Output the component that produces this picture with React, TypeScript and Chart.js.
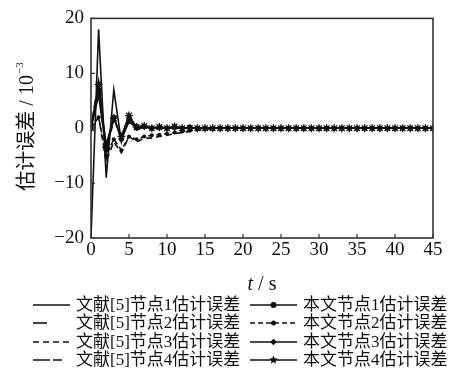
import React, { useEffect, useRef } from "react";
import { Chart, registerables } from "chart.js";

Chart.register(...registerables);

const timeSteps: number[] = Array.from({ length: 46 }, (_, i) => i);
const xTicks: number[] = [0, 5, 10, 15, 20, 25, 30, 35, 40, 45];
const yTicks: number[] = [-20, -10, 0, 10, 20];

const tail = (n: number): number[] => new Array(n).fill(0);

const lit1: number[] = [-20, 18, -9, 7, -2.5, 2.5, -0.3, 0.4, 0, 0.2, 0, 0.1, ...tail(34)];
const lit2: number[] = [0, 8.5, -5.5, 2, -2, 2, -0.3, 0.3, 0, 0.1, ...tail(36)];
const lit3: number[] = [0, 2, -6, -2.5, -4.5, -1.5, -2.5, -1.8, -1.8, -1.5, -1.3, -1.0, -0.8, -0.6, -0.4, -0.2, -0.1, ...tail(29)];
const lit4: number[] = [0, 9, -4, 2, -1.5, 2.2, 0, 0.3, 0, 0.1, ...tail(36)];
const our1: number[] = [0, 7, -3, 2, -2, 1.6, 0.3, 0.3, 0, 0.2, 0, 0.3, 0, 0.2, ...tail(32)];
const our2: number[] = [0, 2, -5, -2, -4, -1.5, -2, -1.5, -1.3, -1.2, -1, -0.8, -0.6, -0.4, -0.2, ...tail(31)];
const our3: number[] = [0, 6, -4, 2, -2, 1.2, 0, 0.3, 0, 0.1, ...tail(36)];
const our4: number[] = [0, 8, -3.5, 1.8, -1.5, 2.3, 0.2, 0.4, 0, 0.2, 0, 0.3, ...tail(34)];

const labelsLit: string[] = ["文献[5]节点1估计误差", "文献[5]节点2估计误差", "文献[5]节点3估计误差", "文献[5]节点4估计误差"];
const labelsOur: string[] = ["本文节点1估计误差", "本文节点2估计误差", "本文节点3估计误差", "本文节点4估计误差"];

const INK = "#111";
const SERIF = "'Liberation Serif', 'Noto Sans CJK SC', serif";

type Spec = { data: number[]; label: string; dash: number[]; marker: string | null; radius: number };

const specs: Spec[] = [
  { data: lit1, label: labelsLit[0], dash: [], marker: null, radius: 0 },
  { data: lit2, label: labelsLit[1], dash: [14, 24], marker: null, radius: 0 },
  { data: lit3, label: labelsLit[2], dash: [6, 4], marker: null, radius: 0 },
  { data: lit4, label: labelsLit[3], dash: [17, 3, 9, 30], marker: null, radius: 0 },
  { data: our1, label: labelsOur[0], dash: [], marker: "circle", radius: 2.5 },
  { data: our2, label: labelsOur[1], dash: [5, 3], marker: "circle", radius: 2 },
  { data: our3, label: labelsOur[2], dash: [], marker: "rectRot", radius: 2.8 },
  { data: our4, label: labelsOur[3], dash: [], marker: "star", radius: 4 },
];

function drawMarker(ctx: CanvasRenderingContext2D, kind: string, x: number, y: number, r: number) {
  ctx.save();
  ctx.setLineDash([]);
  ctx.fillStyle = INK;
  ctx.strokeStyle = INK;
  ctx.lineWidth = 1.3;
  ctx.beginPath();
  if (kind === "circle") {
    ctx.arc(x, y, r, 0, Math.PI * 2);
    ctx.fill();
  } else if (kind === "rectRot") {
    ctx.moveTo(x, y - r);
    ctx.lineTo(x + r, y);
    ctx.lineTo(x, y + r);
    ctx.lineTo(x - r, y);
    ctx.closePath();
    ctx.fill();
  } else if (kind === "star") {
    for (let i = 0; i < 10; i++) {
      const a = -Math.PI / 2 + (i * Math.PI) / 5;
      const rr = i % 2 === 0 ? r : r * 0.45;
      const px = x + rr * Math.cos(a);
      const py = y + rr * Math.sin(a);
      if (i === 0) ctx.moveTo(px, py);
      else ctx.lineTo(px, py);
    }
    ctx.closePath();
    ctx.fill();
  }
  ctx.restore();
}

const decorPlugin = {
  id: "decor",
  afterDatasetsDraw(chart: any) {
    const { ctx, chartArea } = chart;
    const xs = chart.scales.x;
    const ys = chart.scales.y;
    ctx.save();
    ctx.strokeStyle = "#333";
    ctx.lineWidth = 1.2;
    ctx.beginPath();
    xTicks.forEach((v) => {
      const px = xs.getPixelForValue(v);
      ctx.moveTo(px, chartArea.bottom);
      ctx.lineTo(px, chartArea.bottom - 4);
    });
    yTicks.forEach((v) => {
      const py = ys.getPixelForValue(v);
      ctx.moveTo(chartArea.left, py);
      ctx.lineTo(chartArea.left + 4, py);
    });
    ctx.stroke();
    ctx.lineWidth = 1.6;
    ctx.strokeRect(chartArea.left, chartArea.top, chartArea.right - chartArea.left, chartArea.bottom - chartArea.top);
    ctx.restore();
  },
  afterDraw(chart: any) {
    const { ctx, chartArea } = chart;
    ctx.save();
    ctx.fillStyle = INK;
    const cx = (chartArea.left + chartArea.right) / 2;
    ctx.textBaseline = "alphabetic";
    ctx.font = `italic 20px ${SERIF}`;
    const tW = ctx.measureText("t").width;
    ctx.font = `20px ${SERIF}`;
    const rest = " / s";
    const rW = ctx.measureText(rest).width;
    const startX = cx - (tW + rW) / 2;
    ctx.textAlign = "left";
    ctx.font = `italic 20px ${SERIF}`;
    ctx.fillText("t", startX, 290);
    ctx.font = `20px ${SERIF}`;
    ctx.fillText(rest, startX + tW, 290);

    ctx.save();
    ctx.translate(33, 127);
    ctx.rotate(-Math.PI / 2);
    ctx.font = `20px ${SERIF}`;
    const main = "估计误差 / 10";
    const mW = ctx.measureText(main).width;
    ctx.font = `11px ${SERIF}`;
    const sup = "−3";
    const sW = ctx.measureText(sup).width;
    const sx = -(mW + sW) / 2;
    ctx.font = `20px ${SERIF}`;
    ctx.fillText(main, sx, 0);
    ctx.font = `11px ${SERIF}`;
    ctx.fillText(sup, sx + mW + 1, -10);
    ctx.restore();

    const rowY = [305, 323, 342, 360];
    ctx.font = `17px ${SERIF}`;
    ctx.textBaseline = "middle";
    specs.forEach((s, i) => {
      const col = i < 4 ? 0 : 1;
      const row = i % 4;
      const y = rowY[row];
      const x0 = col === 0 ? 33 : 250;
      const x1 = col === 0 ? 70 : 297;
      ctx.save();
      ctx.strokeStyle = INK;
      ctx.lineWidth = 1.6;
      ctx.setLineDash(s.dash);
      ctx.beginPath();
      ctx.moveTo(x0, y);
      ctx.lineTo(x1, y);
      ctx.stroke();
      ctx.restore();
      if (s.marker) drawMarker(ctx, s.marker, (x0 + x1) / 2, y, s.radius + 0.5);
      ctx.fillStyle = INK;
      ctx.textAlign = "left";
      ctx.fillText(s.label, col === 0 ? 76 : 303, y + 1);
    });
    ctx.restore();
  },
};

export default function App() {
  const ref = useRef<HTMLCanvasElement | null>(null);
  useEffect(() => {
    if (!ref.current) return;
    const chart = new Chart(ref.current, {
      type: "line",
      data: {
        labels: timeSteps,
        datasets: specs.map((s) => ({
          label: s.label,
          data: s.data.map((v, i) => ({ x: timeSteps[i], y: v })),
          borderColor: INK,
          backgroundColor: INK,
          borderWidth: 1.6,
          borderDash: s.dash,
          pointStyle: (s.marker || "circle") as any,
          pointRadius: s.radius,
          pointBorderWidth: s.marker === "star" ? 1.3 : 0,
          pointBackgroundColor: INK,
          pointBorderColor: INK,
          tension: 0,
          fill: false,
        })),
      },
      options: {
        animation: false,
        responsive: false,
        maintainAspectRatio: false,
        layout: { padding: { left: 0, top: 14, right: 24, bottom: 0 } },
        plugins: { legend: { display: false }, tooltip: { enabled: false } },
        scales: {
          x: {
            type: "linear",
            min: 0,
            max: 45,
            afterBuildTicks: (scale: any) => {
              scale.ticks = xTicks.map((v) => ({ value: v }));
            },
            afterFit: (scale: any) => {
              scale.height = 147;
            },
            grid: { display: false, drawTicks: false },
            border: { display: false },
            ticks: {
              padding: 1,
              maxRotation: 0,
              autoSkip: false,
              color: INK,
              font: { family: SERIF, size: 19 },
            },
          },
          y: {
            type: "linear",
            min: -20,
            max: 20,
            afterBuildTicks: (scale: any) => {
              scale.ticks = yTicks.map((v) => ({ value: v }));
            },
            afterFit: (scale: any) => {
              scale.width = 91;
            },
            grid: { display: false, drawTicks: false },
            border: { display: false },
            ticks: {
              padding: 7,
              color: INK,
              font: { family: SERIF, size: 19 },
              callback: (v: any) => (Number(v) < 0 ? "−" + Math.abs(Number(v)) : String(v)),
            },
          },
        },
      },
      plugins: [decorPlugin],
    } as any);
    return () => chart.destroy();
  }, []);
  return (
    <div style={{ position: "fixed", left: 0, top: 0, width: 457, height: 385, background: "#fff" }}>
      <canvas ref={ref} width={457} height={385} />
    </div>
  );
}
